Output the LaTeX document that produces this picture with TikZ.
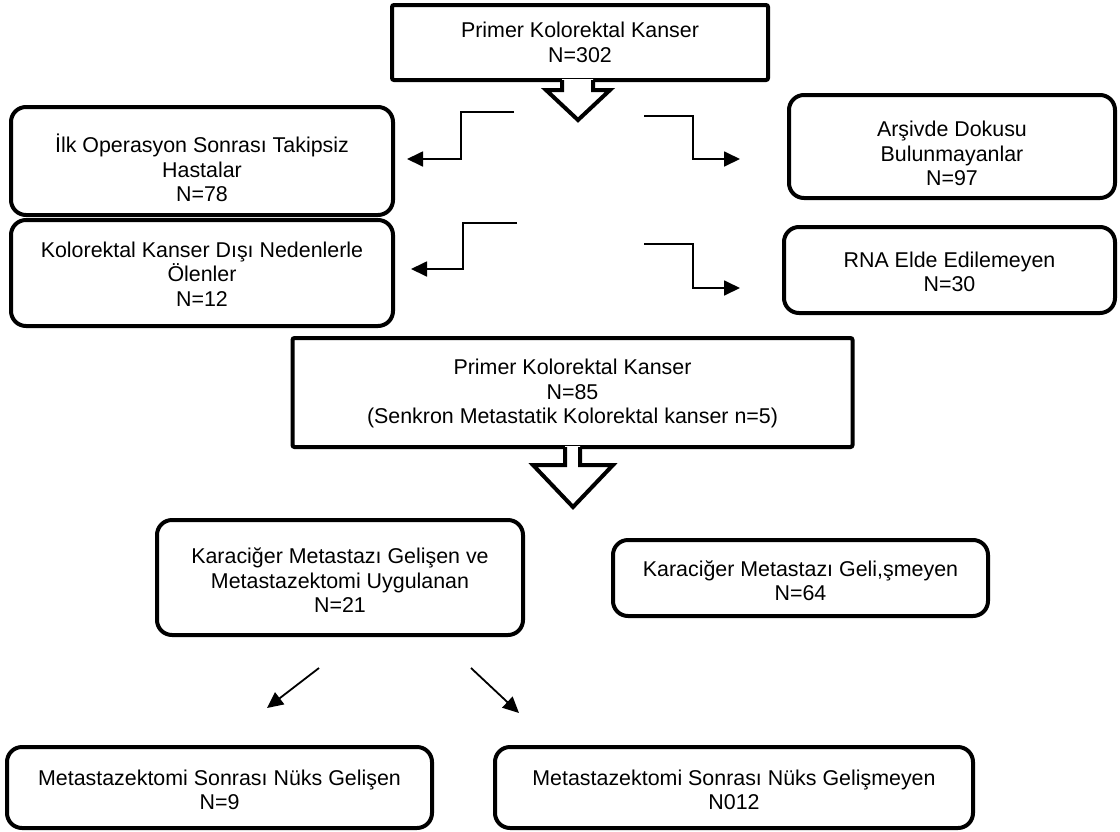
\documentclass[tikz,border=0pt]{standalone}
\usepackage{fontspec}
\setmainfont{Liberation Sans}
\usetikzlibrary{arrows.meta,calc}
\begin{document}
\begin{tikzpicture}[x=0.5pt,y=-0.5pt,
  sbox/.style={draw,line width=2pt,rounded corners=1pt,inner sep=0pt},
  rbox/.style={draw,line width=2pt,rounded corners=7.5pt,inner sep=0pt},
  lbl/.style={align=center,font=\fontsize{10.7}{12.2}\selectfont,inner sep=0pt},
  conn/.style={line width=0.9pt,-{Triangle[length=8pt,width=7.5pt]}},
  blk/.style={line width=2pt,line join=miter},
]
\useasboundingbox (0,0) rectangle (1120,831);

% boxes
\node[sbox,minimum width=188pt,minimum height=37.5pt,
  label={[lbl]center:{Primer Kolorektal Kanser\\N=302}}] (T) at (580,42.5) {};
\node[rbox,minimum width=191pt,minimum height=54pt,
  label={[lbl,yshift=-3.5pt]center:{İlk Operasyon Sonrası Takipsiz\\Hastalar\\N=78}}] (L1) at (202,161) {};
\node[rbox,minimum width=191pt,minimum height=53pt,
  label={[lbl,yshift=-0.5pt]center:{Kolorektal Kanser Dışı Nedenlerle\\Ölenler\\N=12}}] (L2) at (202,273) {};
\node[rbox,minimum width=163pt,minimum height=51.5pt,
  label={[lbl,yshift=-3.5pt]center:{Arşivde Dokusu\\Bulunmayanlar\\N=97}}] (R1) at (952,146.5) {};
\node[rbox,minimum width=165.5pt,minimum height=43pt,
  label={[lbl,yshift=-0.8pt]center:{RNA Elde Edilemeyen\\N=30}}] (R2) at (949.5,270) {};
\node[sbox,minimum width=280pt,minimum height=54.5pt,
  label={[lbl,yshift=-0.5pt]center:{Primer Kolorektal Kanser\\N=85\\(Senkron Metastatik Kolorektal kanser n=5)}}] (M) at (572.5,392.5) {};
\node[rbox,minimum width=183pt,minimum height=57.5pt,
  label={[lbl,yshift=-1.5pt]center:{Karaciğer Metastazı Gelişen ve\\Metastazektomi Uygulanan\\N=21}}] (K1) at (340,577.5) {};
\node[rbox,minimum width=187.5pt,minimum height=38pt,
  label={[lbl,yshift=-1.5pt]center:{Karaciğer Metastazı Geli,şmeyen\\N=64}}] (K2) at (800.5,578) {};
\node[rbox,minimum width=212.5pt,minimum height=40.5pt,
  label={[lbl,yshift=-1.2pt]center:{Metastazektomi Sonrası Nüks Gelişen\\N=9}}] (B1) at (219.5,787.5) {};
\node[rbox,minimum width=239pt,minimum height=40.5pt,
  label={[lbl,yshift=-1.2pt]center:{Metastazektomi Sonrası Nüks Gelişmeyen\\N012}}] (B2) at (734,787.5) {};

% block arrow from T
\begin{scope}[shift={(T.south)}]
  \fill[white] (-18,-3) -- (-18,8) -- (-34,8) -- (-2,38) -- (30,8) -- (13,8) -- (13,-3) -- cycle;
  \draw[blk] (-18,-2) -- (-18,8) -- (-34,8) -- (-2,38) -- (30,8) -- (13,8) -- (13,-2);
\end{scope}
% block arrow from M
\begin{scope}[shift={(M.south)}]
  \fill[white] (-7.5,-3) -- (-7.5,16) -- (-39.5,16) -- (0.5,58) -- (40.5,16) -- (7.5,16) -- (7.5,-3) -- cycle;
  \draw[blk] (-7.5,-2) -- (-7.5,16) -- (-39.5,16) -- (0.5,58) -- (40.5,16) -- (7.5,16) -- (7.5,-2);
\end{scope}

% elbow connectors
\coordinate (a1) at (514,112); \coordinate (a1t) at (407,159);
\coordinate (a2) at (517,223); \coordinate (a2t) at (411,269);
\coordinate (b1) at (644,116); \coordinate (b1t) at (740,159);
\coordinate (b2) at (644,244); \coordinate (b2t) at (740,288);
\draw[conn] (a1) -- ++(-53,0) |- (a1t);
\draw[conn] (a2) -- ++(-54,0) |- (a2t);
\draw[conn] (b1) -- ++(49,0) |- (b1t);
\draw[conn] (b2) -- ++(49,0) |- (b2t);

% diagonal arrows
\coordinate (d1) at (319,668); \coordinate (d1t) at (267,708);
\coordinate (d2) at (471,668); \coordinate (d2t) at (519,713);
\draw[conn] (d1) -- (d1t);
\draw[conn] (d2) -- (d2t);
\end{tikzpicture}
\end{document}
